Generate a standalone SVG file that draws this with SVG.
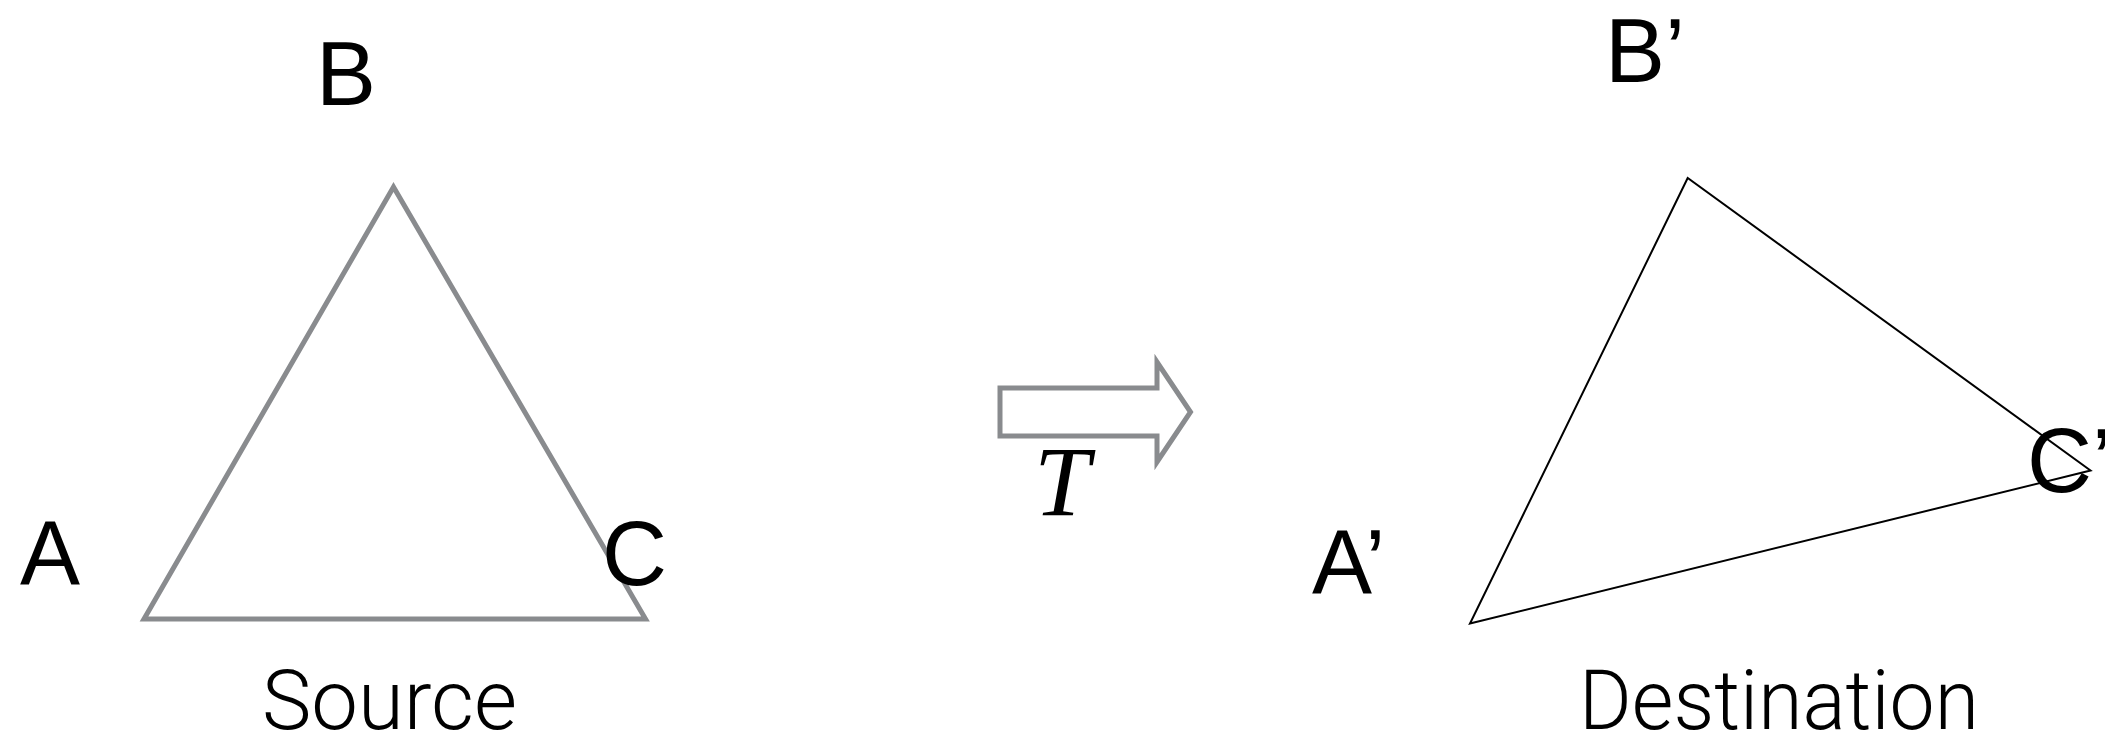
<svg xmlns="http://www.w3.org/2000/svg" width="2105" height="734" viewBox="0 0 2105 734">
  <style>
    .lbl { font-family: "Liberation Sans", Arial, sans-serif; font-size: 90px; fill: #000; }
    .cap { font-family: Roboto, "Liberation Sans", sans-serif; font-weight: 300; font-size: 84px; fill: #000; }
    .src { fill: none; stroke: #898b8e; stroke-width: 5; stroke-linejoin: miter; }
    .dst { fill: none; stroke: #000; stroke-width: 2; stroke-linejoin: miter; }
    .math { font-family: "Liberation Serif", "Times New Roman", serif; font-style: italic; font-size: 100px; fill: #000; }
  </style>
  <rect width="2105" height="734" fill="#fff"/>

  <!-- source triangle -->
  <g id="source">
    <polygon class="src" points="393.5,187 144,619 645.5,619"/>
    <text class="lbl" x="316" y="105">B</text>
    <text class="lbl" x="20" y="584">A</text>
    <text class="lbl" x="602" y="585">C</text>
    <text class="cap" x="262" y="729" textLength="255" lengthAdjust="spacingAndGlyphs">Source</text>
  </g>

  <!-- transform arrow -->
  <g id="transform">
    <polygon class="src" points="1000,388 1157,388 1157,362 1190.5,412 1157,462 1157,436 1000,436"/>
    <text class="math" x="1034" y="515">T</text>
  </g>

  <!-- destination triangle -->
  <g id="destination">
    <polygon class="dst" points="1687.7,178 1470,623.5 2090.5,470.5"/>
    <text class="lbl" x="1605" y="82">B’</text>
    <text class="lbl" x="1312" y="593">A’</text>
    <text class="lbl" x="2027" y="492">C’</text>
    <text class="cap" x="1579" y="729" textLength="400" lengthAdjust="spacingAndGlyphs">Destination</text>
  </g>
</svg>
